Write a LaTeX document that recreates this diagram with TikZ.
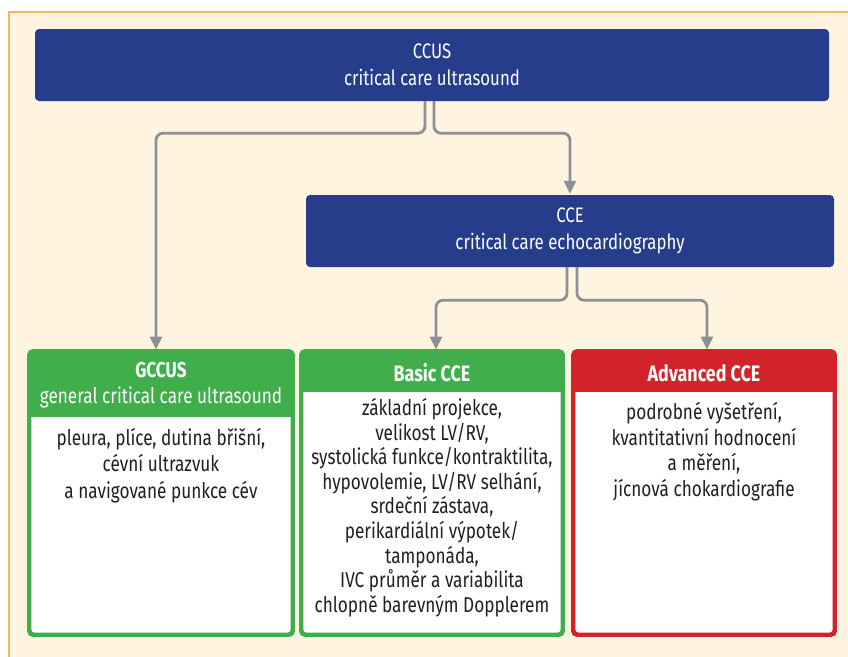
\documentclass[tikz,border=0pt]{standalone}
\usepackage{fontspec}
\setmainfont{Fira Sans}[FakeStretch=0.8]
\usetikzlibrary{arrows.meta,calc}
\definecolor{cream}{HTML}{FEF4E0}
\definecolor{frameor}{HTML}{F9B855}
\definecolor{ccblue}{HTML}{253D8B}
\definecolor{ccgreen}{HTML}{40AE4A}
\definecolor{ccred}{HTML}{D2232A}
\definecolor{conngray}{HTML}{8E9095}
\definecolor{txt}{HTML}{231F20}
\tikzset{
  bluebox/.style={fill=ccblue, rounded corners=4pt, text=white, align=center,
    font=\fontsize{21}{26.5}\selectfont, inner sep=0pt},
  panel/.style={draw=#1, line width=2.8pt, rounded corners=4pt, fill=white, inner sep=0pt},
  headtxt/.style={text=white, align=center, inner sep=0pt},
  bodytxt/.style={text=txt, align=center, inner sep=0pt, font=\fontsize{21.5}{24.6}\selectfont},
  conn/.style={draw=conngray, line width=2.8pt, rounded corners=7pt,
    -{Triangle[length=13pt,width=12pt]}, shorten >=1pt},
}
\begin{document}
\begin{tikzpicture}[x=1pt,y=-1pt]
\useasboundingbox (0,0) rectangle (848,656);
\fill[cream] (9,12) rectangle (870,680);
\draw[frameor, line width=2pt] (9,680) -- (9,12) -- (870,12);

% top boxes
\node[bluebox, minimum width=794pt, minimum height=72pt] (ccus) at (432,65)
  {CCUS\\critical care ultrasound};
\node[bluebox, minimum width=528pt, minimum height=72pt] (cce) at (570,231)
  {CCE\\critical care echocardiography};

% lower panels
\node[panel=ccgreen, minimum width=262pt, minimum height=282pt] (g) at (161,493) {};
\node[panel=ccgreen, minimum width=260pt, minimum height=282pt] (b) at (432,493) {};
\node[panel=ccred, minimum width=260pt, minimum height=282pt] (a) at (704,493) {};

\begin{scope}
  \clip[rounded corners=4pt] (g.south west) rectangle (g.north east);
  \fill[ccgreen] (g.north west) rectangle ($(g.north east)+(0,66)$);
\end{scope}
\begin{scope}
  \clip[rounded corners=4pt] (b.south west) rectangle (b.north east);
  \fill[ccgreen] (b.north west) rectangle ($(b.north east)+(0,41)$);
\end{scope}
\begin{scope}
  \clip[rounded corners=4pt] (a.south west) rectangle (a.north east);
  \fill[ccred] (a.north west) rectangle ($(a.north east)+(0,41)$);
\end{scope}
\draw[ccgreen, line width=2.8pt, rounded corners=4pt] (g.south west) rectangle (g.north east);
\draw[ccgreen, line width=2.8pt, rounded corners=4pt] (b.south west) rectangle (b.north east);
\draw[ccred, line width=2.8pt, rounded corners=4pt] (a.south west) rectangle (a.north east);

% header texts
\node[headtxt, font=\fontsize{21.5}{26}\selectfont] (gh) at (161,385)
  {\textbf{GCCUS}\\general critical care ultrasound};
\node[headtxt, font=\bfseries\fontsize{22.3}{26}\selectfont] (bh) at (432,373) {Basic CCE};
\node[headtxt, font=\bfseries\fontsize{22.3}{26}\selectfont] (ah) at (704,373) {Advanced CCE};

% body texts
\node[bodytxt, anchor=north, font=\fontsize{21.5}{26.5}\selectfont] (gb) at (161,428)
  {pleura, plíce, dutina břišní,\\cévní ultrazvuk\\a navigované punkce cév};
\node[bodytxt, anchor=north] (bb) at (432,398)
  {základní projekce,\\velikost LV/RV,\\systolická funkce/kontraktilita,\\hypovolemie, LV/RV selhání,\\srdeční zástava,\\perikardiální výpotek/\\tamponáda,\\IVC průměr a variabilita\\chlopně barevným Dopplerem};
\node[bodytxt, anchor=north, font=\fontsize{21.5}{25.6}\selectfont] (ab) at (704,402)
  {podrobné vyšetření,\\kvantitativní hodnocení\\a měření,\\jícnová chokardiografie};

% connectors
\draw[conn] ([xshift=-7pt]ccus.south) -- ++(0,32) -| ([xshift=-5pt]g.north);
\draw[conn] ([xshift=2pt]ccus.south) -- ++(0,32) -| (cce.north);
\draw[conn] ([xshift=-3pt]cce.south) -- ++(0,33) -| ([xshift=4pt]b.north);
\draw[conn] ([xshift=7pt]cce.south) -- ++(0,33) -| ([xshift=3pt]a.north);
\end{tikzpicture}
\end{document}
